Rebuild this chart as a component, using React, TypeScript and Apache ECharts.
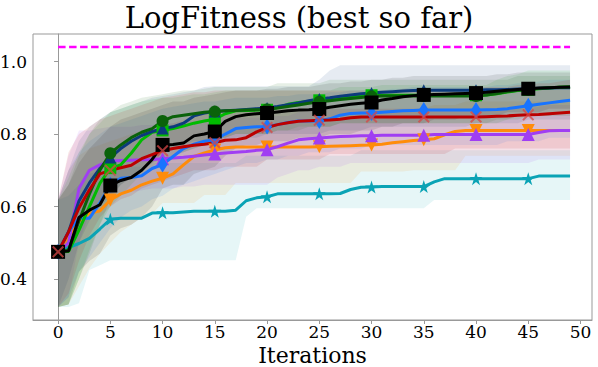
import React, { useEffect, useRef } from "react";
import * as echarts from "echarts";

// ---------- data ----------
const xTicks = [0, 5, 10, 15, 20, 25, 30, 35, 40, 45, 50];
const yTicks = [0.4, 0.6, 0.8, 1.0];
const optimum = 1.04;
const optimumSpan = [0, 49];

const navyMean = [
  0.475, 0.53, 0.615, 0.665, 0.705, 0.735, 0.76, 0.78, 0.796, 0.807,
  0.815, 0.82, 0.83, 0.85, 0.858, 0.862, 0.864, 0.866, 0.868, 0.87,
  0.872, 0.876, 0.881, 0.886, 0.892, 0.897, 0.9, 0.904, 0.908, 0.911,
  0.913, 0.915, 0.917, 0.919, 0.92, 0.921, 0.921, 0.921, 0.921, 0.921,
  0.921, 0.922, 0.922, 0.923, 0.924, 0.925, 0.926, 0.927, 0.928, 0.928,
];
const navyLo = [
  0.323, 0.4, 0.5, 0.56, 0.6, 0.63, 0.66, 0.68, 0.7, 0.72,
  0.73, 0.74, 0.75, 0.76, 0.77, 0.78, 0.78, 0.79, 0.79, 0.79,
  0.8, 0.8, 0.8, 0.8, 0.8, 0.8, 0.81, 0.81, 0.81, 0.81,
  0.82, 0.82, 0.82, 0.82, 0.82, 0.82, 0.82, 0.82, 0.82, 0.82,
  0.83, 0.83, 0.83, 0.83, 0.83, 0.84, 0.84, 0.84, 0.84, 0.84,
];
const navyHi = [
  0.618, 0.7, 0.78, 0.82, 0.84, 0.86, 0.87, 0.88, 0.89, 0.9,
  0.905, 0.91, 0.915, 0.92, 0.93, 0.932, 0.932, 0.932, 0.932, 0.932,
  0.932, 0.932, 0.932, 0.932, 0.932, 0.95, 0.975, 0.99, 0.99, 0.99,
  0.99, 0.99, 0.99, 0.99, 0.99, 0.99, 0.99, 0.99, 0.99, 0.99,
  0.99, 0.99, 0.99, 0.99, 0.99, 0.99, 0.99, 0.99, 0.99, 0.99,
];

const darkGreenMean = [
  0.475, 0.48, 0.56, 0.635, 0.7, 0.747, 0.77, 0.79, 0.805, 0.815,
  0.836, 0.848, 0.852, 0.856, 0.86, 0.862, 0.864, 0.865, 0.866, 0.867,
  0.868, 0.872, 0.876, 0.88, 0.885, 0.889, 0.892, 0.895, 0.898, 0.901,
  0.904, 0.905, 0.905, 0.905, 0.905, 0.905, 0.905, 0.905, 0.905, 0.905,
  0.905, 0.908, 0.912, 0.917, 0.921, 0.923, 0.926, 0.928, 0.929, 0.93,
];
const darkGreenLo = [
  0.323, 0.33, 0.4, 0.47, 0.55, 0.62, 0.66, 0.68, 0.7, 0.72,
  0.75, 0.76, 0.77, 0.78, 0.78, 0.79, 0.79, 0.8, 0.8, 0.8,
  0.8, 0.81, 0.81, 0.81, 0.82, 0.82, 0.82, 0.83, 0.83, 0.83,
  0.83, 0.83, 0.83, 0.83, 0.83, 0.83, 0.83, 0.83, 0.83, 0.83,
  0.83, 0.83, 0.84, 0.84, 0.85, 0.85, 0.85, 0.85, 0.85, 0.85,
];
const darkGreenHi = [
  0.618, 0.66, 0.74, 0.8, 0.84, 0.86, 0.88, 0.89, 0.9, 0.905,
  0.91, 0.915, 0.92, 0.92, 0.925, 0.93, 0.93, 0.93, 0.93, 0.93,
  0.93, 0.94, 0.94, 0.94, 0.94, 0.94, 0.95, 0.95, 0.95, 0.95,
  0.95, 0.95, 0.95, 0.95, 0.95, 0.95, 0.95, 0.95, 0.95, 0.95,
  0.95, 0.95, 0.95, 0.95, 0.96, 0.96, 0.96, 0.96, 0.96, 0.96,
];

const greenMean = [
  0.475, 0.476, 0.535, 0.6, 0.664, 0.706, 0.715, 0.747, 0.784, 0.805,
  0.81, 0.815, 0.822, 0.83, 0.836, 0.841, 0.856, 0.864, 0.865, 0.866,
  0.867, 0.873, 0.882, 0.887, 0.89, 0.893, 0.896, 0.9, 0.904, 0.906,
  0.907, 0.907, 0.907, 0.907, 0.907, 0.907, 0.907, 0.907, 0.907, 0.907,
  0.907, 0.908, 0.911, 0.916, 0.92, 0.922, 0.925, 0.927, 0.929, 0.93,
];
const greenLo = [
  0.323, 0.33, 0.4, 0.48, 0.55, 0.6, 0.63, 0.66, 0.69, 0.71,
  0.73, 0.74, 0.75, 0.76, 0.77, 0.78, 0.79, 0.8, 0.8, 0.8,
  0.8, 0.81, 0.81, 0.82, 0.82, 0.82, 0.82, 0.83, 0.83, 0.83,
  0.83, 0.83, 0.83, 0.83, 0.83, 0.83, 0.83, 0.83, 0.83, 0.83,
  0.83, 0.83, 0.83, 0.84, 0.84, 0.85, 0.85, 0.85, 0.86, 0.86,
];
const greenHi = [
  0.618, 0.68, 0.75, 0.8, 0.83, 0.86, 0.87, 0.88, 0.89, 0.895,
  0.9, 0.9, 0.905, 0.91, 0.91, 0.915, 0.92, 0.92, 0.92, 0.92,
  0.92, 0.92, 0.92, 0.92, 0.92, 0.92, 0.92, 0.93, 0.93, 0.93,
  0.93, 0.935, 0.935, 0.935, 0.935, 0.935, 0.935, 0.935, 0.935, 0.935,
  0.935, 0.935, 0.95, 0.96, 0.965, 0.975, 0.975, 0.975, 0.975, 0.975,
];

const blackMean = [
  0.475, 0.477, 0.57, 0.59, 0.605, 0.658, 0.672, 0.68, 0.7, 0.73,
  0.77, 0.771, 0.775, 0.795, 0.8, 0.807, 0.835, 0.848, 0.853, 0.856,
  0.858, 0.861, 0.864, 0.866, 0.867, 0.869, 0.874, 0.878, 0.882, 0.885,
  0.887, 0.894, 0.898, 0.903, 0.906, 0.908, 0.909, 0.91, 0.911, 0.912,
  0.913, 0.915, 0.918, 0.921, 0.923, 0.925, 0.927, 0.928, 0.929, 0.93,
];
const blackLo = [
  0.323, 0.33, 0.42, 0.45, 0.47, 0.52, 0.54, 0.55, 0.57, 0.6,
  0.65, 0.66, 0.66, 0.69, 0.7, 0.71, 0.74, 0.76, 0.77, 0.77,
  0.78, 0.78, 0.78, 0.79, 0.79, 0.79, 0.8, 0.8, 0.8, 0.81,
  0.81, 0.82, 0.82, 0.83, 0.83, 0.83, 0.84, 0.84, 0.84, 0.85,
  0.85, 0.85, 0.85, 0.86, 0.86, 0.86, 0.86, 0.87, 0.87, 0.87,
];
const blackHi = [
  0.618, 0.66, 0.72, 0.76, 0.79, 0.82, 0.84, 0.85, 0.86, 0.87,
  0.88, 0.89, 0.89, 0.9, 0.905, 0.91, 0.915, 0.92, 0.92, 0.92,
  0.925, 0.925, 0.93, 0.93, 0.93, 0.935, 0.94, 0.94, 0.945, 0.945,
  0.95, 0.95, 0.955, 0.955, 0.96, 0.96, 0.96, 0.96, 0.96, 0.96,
  0.96, 0.96, 0.965, 0.965, 0.97, 0.97, 0.97, 0.97, 0.97, 0.97,
];

const blueMean = [
  0.475, 0.53, 0.568, 0.568, 0.61, 0.66, 0.678, 0.68, 0.685, 0.705,
  0.716, 0.738, 0.76, 0.772, 0.78, 0.784, 0.8, 0.815, 0.818, 0.82,
  0.821, 0.826, 0.832, 0.836, 0.836, 0.836, 0.842, 0.852, 0.857, 0.858,
  0.858, 0.86, 0.862, 0.864, 0.865, 0.866, 0.866, 0.866, 0.866, 0.866,
  0.866, 0.867, 0.868, 0.87, 0.874, 0.878, 0.882, 0.886, 0.89, 0.893,
];
const blueLo = [
  0.323, 0.35, 0.42, 0.46, 0.5, 0.54, 0.57, 0.59, 0.6, 0.62,
  0.63, 0.65, 0.66, 0.67, 0.68, 0.69, 0.7, 0.71, 0.72, 0.72,
  0.73, 0.73, 0.74, 0.74, 0.75, 0.75, 0.75, 0.76, 0.76, 0.76,
  0.77, 0.77, 0.77, 0.77, 0.77, 0.77, 0.77, 0.77, 0.77, 0.77,
  0.77, 0.77, 0.77, 0.78, 0.78, 0.78, 0.78, 0.79, 0.79, 0.79,
];
const blueHi = [
  0.618, 0.7, 0.75, 0.78, 0.8, 0.82, 0.83, 0.84, 0.85, 0.86,
  0.87, 0.875, 0.88, 0.885, 0.89, 0.89, 0.895, 0.9, 0.9, 0.9,
  0.9, 0.905, 0.905, 0.91, 0.91, 0.91, 0.915, 0.915, 0.92, 0.92,
  0.92, 0.92, 0.925, 0.925, 0.93, 0.93, 0.93, 0.93, 0.93, 0.93,
  0.93, 0.93, 0.935, 0.935, 0.94, 0.94, 0.945, 0.95, 0.95, 0.95,
];

const redMean = [
  0.475, 0.53, 0.596, 0.646, 0.69, 0.7, 0.707, 0.714, 0.732, 0.743,
  0.754, 0.76, 0.765, 0.769, 0.772, 0.776, 0.783, 0.784, 0.79, 0.806,
  0.818, 0.826, 0.831, 0.835, 0.837, 0.838, 0.839, 0.841, 0.845, 0.847,
  0.847, 0.847, 0.847, 0.847, 0.847, 0.847, 0.847, 0.847, 0.847, 0.847,
  0.847, 0.848, 0.849, 0.85, 0.852, 0.853, 0.854, 0.856, 0.858, 0.86,
];
const redLo = [
  0.323, 0.36, 0.45, 0.52, 0.57, 0.6, 0.62, 0.63, 0.65, 0.66,
  0.67, 0.68, 0.69, 0.7, 0.7, 0.7, 0.71, 0.71, 0.71, 0.71,
  0.73, 0.73, 0.73, 0.73, 0.73, 0.73, 0.745, 0.745, 0.745, 0.745,
  0.745, 0.745, 0.745, 0.745, 0.745, 0.745, 0.745, 0.745, 0.76, 0.76,
  0.76, 0.76, 0.76, 0.76, 0.76, 0.76, 0.76, 0.76, 0.76, 0.76,
];
const redHi = [
  0.618, 0.75, 0.8, 0.82, 0.84, 0.85, 0.86, 0.87, 0.88, 0.89,
  0.9, 0.905, 0.91, 0.915, 0.915, 0.92, 0.92, 0.92, 0.92, 0.92,
  0.92, 0.92, 0.92, 0.92, 0.92, 0.92, 0.92, 0.92, 0.92, 0.92,
  0.92, 0.92, 0.92, 0.925, 0.925, 0.925, 0.925, 0.925, 0.925, 0.925,
  0.925, 0.93, 0.93, 0.93, 0.935, 0.935, 0.94, 0.94, 0.945, 0.95,
];

const purpleMean = [
  0.475, 0.5, 0.65, 0.7, 0.715, 0.725, 0.727, 0.728, 0.729, 0.73,
  0.732, 0.734, 0.736, 0.739, 0.742, 0.745, 0.748, 0.75, 0.752, 0.755,
  0.757, 0.765, 0.775, 0.784, 0.787, 0.789, 0.791, 0.793, 0.794, 0.795,
  0.795, 0.797, 0.797, 0.797, 0.797, 0.797, 0.799, 0.799, 0.799, 0.799,
  0.799, 0.799, 0.799, 0.799, 0.799, 0.799, 0.804, 0.809, 0.81, 0.81,
];
const purpleLo = [
  0.323, 0.35, 0.5, 0.58, 0.62, 0.63, 0.64, 0.64, 0.645, 0.65,
  0.65, 0.65, 0.655, 0.655, 0.66, 0.66, 0.66, 0.66, 0.66, 0.66,
  0.66, 0.68, 0.69, 0.7, 0.7, 0.71, 0.71, 0.71, 0.72, 0.72,
  0.72, 0.72, 0.72, 0.72, 0.72, 0.72, 0.72, 0.72, 0.72, 0.72,
  0.72, 0.72, 0.72, 0.72, 0.72, 0.72, 0.73, 0.73, 0.73, 0.73,
];
const purpleHi = [
  0.618, 0.74, 0.81, 0.81, 0.815, 0.82, 0.82, 0.82, 0.825, 0.825,
  0.83, 0.83, 0.835, 0.835, 0.84, 0.84, 0.84, 0.845, 0.845, 0.845,
  0.845, 0.85, 0.85, 0.86, 0.865, 0.87, 0.87, 0.87, 0.87, 0.87,
  0.87, 0.87, 0.87, 0.87, 0.87, 0.87, 0.87, 0.87, 0.87, 0.87,
  0.87, 0.87, 0.87, 0.87, 0.87, 0.87, 0.875, 0.88, 0.88, 0.88,
];

const orangeMean = [
  0.475, 0.517, 0.56, 0.581, 0.588, 0.618, 0.635, 0.645, 0.66, 0.67,
  0.678, 0.69, 0.715, 0.738, 0.748, 0.756, 0.762, 0.764, 0.764, 0.764,
  0.764, 0.764, 0.764, 0.764, 0.764, 0.765, 0.766, 0.767, 0.768, 0.769,
  0.77, 0.772, 0.776, 0.779, 0.782, 0.784, 0.787, 0.798, 0.807, 0.81,
  0.81, 0.81, 0.81, 0.81, 0.81, 0.81, 0.81, 0.81, 0.81, 0.81,
];
const orangeLo = [
  0.323, 0.33, 0.38, 0.43, 0.47, 0.5, 0.53, 0.55, 0.57, 0.58,
  0.61, 0.61, 0.61, 0.61, 0.632, 0.632, 0.632, 0.665, 0.665, 0.665,
  0.665, 0.665, 0.665, 0.665, 0.665, 0.665, 0.665, 0.665, 0.665, 0.697,
  0.697, 0.697, 0.697, 0.697, 0.7, 0.7, 0.7, 0.7, 0.7, 0.74,
  0.74, 0.74, 0.74, 0.74, 0.74, 0.74, 0.74, 0.74, 0.74, 0.74,
];
const orangeHi = [
  0.618, 0.7, 0.74, 0.76, 0.77, 0.78, 0.79, 0.8, 0.81, 0.82,
  0.82, 0.83, 0.84, 0.85, 0.86, 0.86, 0.865, 0.865, 0.865, 0.865,
  0.865, 0.87, 0.87, 0.87, 0.87, 0.87, 0.87, 0.87, 0.87, 0.87,
  0.87, 0.87, 0.87, 0.87, 0.87, 0.87, 0.88, 0.88, 0.88, 0.89,
  0.89, 0.89, 0.89, 0.89, 0.89, 0.89, 0.89, 0.89, 0.89, 0.89,
];

const tealMean = [
  0.476, 0.487, 0.498, 0.512, 0.538, 0.565, 0.568, 0.568, 0.568, 0.582,
  0.583, 0.583, 0.585, 0.587, 0.587, 0.587, 0.587, 0.59, 0.616, 0.624,
  0.627, 0.635, 0.635, 0.635, 0.635, 0.635, 0.635, 0.636, 0.647, 0.653,
  0.654, 0.655, 0.655, 0.655, 0.655, 0.655, 0.668, 0.677, 0.677, 0.677,
  0.677, 0.677, 0.677, 0.677, 0.677, 0.677, 0.684, 0.684, 0.684, 0.684,
];
const tealLo = [
  0.323, 0.323, 0.333, 0.425, 0.438, 0.452, 0.452, 0.452, 0.452, 0.452,
  0.452, 0.452, 0.452, 0.452, 0.452, 0.452, 0.452, 0.452, 0.572, 0.595,
  0.595, 0.595, 0.595, 0.595, 0.595, 0.595, 0.595, 0.595, 0.595, 0.595,
  0.595, 0.595, 0.595, 0.595, 0.595, 0.595, 0.618, 0.618, 0.618, 0.618,
  0.618, 0.618, 0.618, 0.618, 0.618, 0.618, 0.618, 0.618, 0.618, 0.618,
];
const tealHi = [
  0.618, 0.63, 0.66, 0.69, 0.7, 0.7, 0.71, 0.71, 0.71, 0.72,
  0.72, 0.72, 0.72, 0.72, 0.72, 0.72, 0.72, 0.72, 0.74, 0.74,
  0.74, 0.74, 0.74, 0.74, 0.74, 0.74, 0.74, 0.74, 0.74, 0.755,
  0.755, 0.755, 0.755, 0.755, 0.755, 0.755, 0.755, 0.755, 0.755, 0.755,
  0.755, 0.755, 0.755, 0.755, 0.755, 0.755, 0.755, 0.755, 0.755, 0.755,
];

// ---------- styles ----------
const STAR =
  "path://M10,0L12.245,6.91L19.51,6.91L13.63,11.18L15.88,18.09L10,13.82L4.12,18.09L6.37,11.18L0.49,6.91L7.755,6.91Z";
const TRI_DOWN = "path://M0,0L10,0L5,9Z";
const TRI_UP = "path://M5,0L10,9L0,9Z";
const XMARK =
  "path://M0,1.2L1.2,0L5,3.8L8.8,0L10,1.2L6.2,5L10,8.8L8.8,10L5,6.2L1.2,10L0,8.8L3.8,5Z";

const FONT = "DejaVu Serif";

type Def = {
  name: string;
  mean: number[];
  lo: number[];
  hi: number[];
  color: string;
  markerColor: string;
  symbol: string;
  size: number | number[];
};

const defs: Def[] = [
  { name: "teal", mean: tealMean, lo: tealLo, hi: tealHi, color: "#0aa3b5", markerColor: "#0aa3b5", symbol: STAR, size: 13 },
  { name: "orange", mean: orangeMean, lo: orangeLo, hi: orangeHi, color: "#ff8c0a", markerColor: "#ff8c0a", symbol: TRI_DOWN, size: 13 },
  { name: "purple", mean: purpleMean, lo: purpleLo, hi: purpleHi, color: "#a03ef2", markerColor: "#a03ef2", symbol: TRI_UP, size: 13 },
  { name: "blue", mean: blueMean, lo: blueLo, hi: blueHi, color: "#1874ff", markerColor: "#1874ff", symbol: "diamond", size: [10, 16] },
  { name: "green", mean: greenMean, lo: greenLo, hi: greenHi, color: "#00bb00", markerColor: "#00bb00", symbol: "rect", size: 12 },
  { name: "navy", mean: navyMean, lo: navyLo, hi: navyHi, color: "#0c3a7c", markerColor: "#0c3a7c", symbol: TRI_UP, size: 12 },
  { name: "darkgreen", mean: darkGreenMean, lo: darkGreenLo, hi: darkGreenHi, color: "#0a620a", markerColor: "#0a620a", symbol: "circle", size: 12 },
  { name: "black", mean: blackMean, lo: blackLo, hi: blackHi, color: "#000000", markerColor: "#000000", symbol: "rect", size: 14 },
  { name: "red", mean: redMean, lo: redLo, hi: redHi, color: "#bb0000", markerColor: "rgba(215,70,70,0.75)", symbol: XMARK, size: 12 },
];

function rgba(hex: string, a: number) {
  const h = hex.replace("#", "");
  const r = parseInt(h.slice(0, 2), 16);
  const g = parseInt(h.slice(2, 4), 16);
  const b = parseInt(h.slice(4, 6), 16);
  return `rgba(${r},${g},${b},${a})`;
}

export default function App() {
  const ref = useRef<HTMLDivElement>(null);

  useEffect(() => {
    document.body.style.margin = "0";
    if (!ref.current) return;
    const chart = echarts.init(ref.current, undefined, { renderer: "svg" });

    const bandSeries = defs.map((d) => ({
      type: "custom",
      name: d.name + "-band",
      silent: true,
      z: 1,
      data: [[0, d.mean[0]]],
      renderItem: (params: any, api: any) => {
        const pts: number[][] = [];
        d.hi.forEach((v, i) => pts.push(api.coord([i, v])));
        for (let i = d.lo.length - 1; i >= 0; i--) pts.push(api.coord([i, d.lo[i]]));
        return {
          type: "polygon",
          shape: { points: pts },
          style: { fill: rgba(d.color, 0.1), stroke: "none" },
        };
      },
    }));

    const lineSeries = defs.map((d) => ({
      type: "line",
      name: d.name,
      z: 3,
      showSymbol: true,
      showAllSymbol: true,
      symbol: d.symbol,
      symbolSize: d.size,
      lineStyle: { color: d.color, width: 3 },
      itemStyle: { color: d.markerColor, borderWidth: 0 },
      emphasis: { disabled: true },
      data: d.mean.map((v, i) =>
        i % 5 === 0 ? { value: [i, v] } : { value: [i, v], symbol: "none" }
      ),
    }));

    const optimumSeries = {
      type: "line",
      name: "optimum",
      z: 3,
      symbol: "none",
      lineStyle: { color: "#ff00ff", width: 2.4, type: [7.5, 3.5] },
      data: optimumSpan.map((x) => [x, optimum]),
    };

    chart.setOption({
      animation: false,
      title: {
        text: "LogFitness (best so far)",
        left: "center",
        top: -2,
        textStyle: { fontFamily: FONT, fontSize: 29, fontWeight: "normal", color: "#000" },
      },
      grid: {
        left: 33,
        right: 6,
        top: 34,
        bottom: 47,
        show: true,
        borderColor: "#999",
        borderWidth: 1,
        containLabel: false,
        outerBoundsMode: "none",
      },
      xAxis: {
        type: "value",
        min: -2.4,
        max: 51.1,
        name: "Iterations",
        nameLocation: "middle",
        nameGap: 20,
        nameTextStyle: { fontFamily: FONT, fontSize: 22, lineHeight: 22, color: "#000" },
        axisLine: { show: true, lineStyle: { color: "#999", width: 1 } },
        axisTick: { show: true, length: 4, customValues: xTicks, lineStyle: { color: "#999" } },
        axisLabel: { customValues: xTicks, fontFamily: FONT, fontSize: 17, color: "#000", margin: 3 },
        splitLine: { show: false },
      },
      yAxis: {
        type: "value",
        min: 0.287,
        max: 1.076,
        axisLine: { show: true, lineStyle: { color: "#999", width: 1 } },
        axisTick: { show: true, length: 4, customValues: yTicks, lineStyle: { color: "#999" } },
        axisLabel: {
          customValues: yTicks,
          fontFamily: FONT,
          fontSize: 17,
          color: "#000",
          margin: 6,
          formatter: (v: number) => v.toFixed(1),
        },
        splitLine: { show: false },
      },
      series: [...bandSeries, optimumSeries, ...lineSeries],
    });

    return () => chart.dispose();
  }, []);

  return <div ref={ref} style={{ width: 598, height: 367 }} />;
}
